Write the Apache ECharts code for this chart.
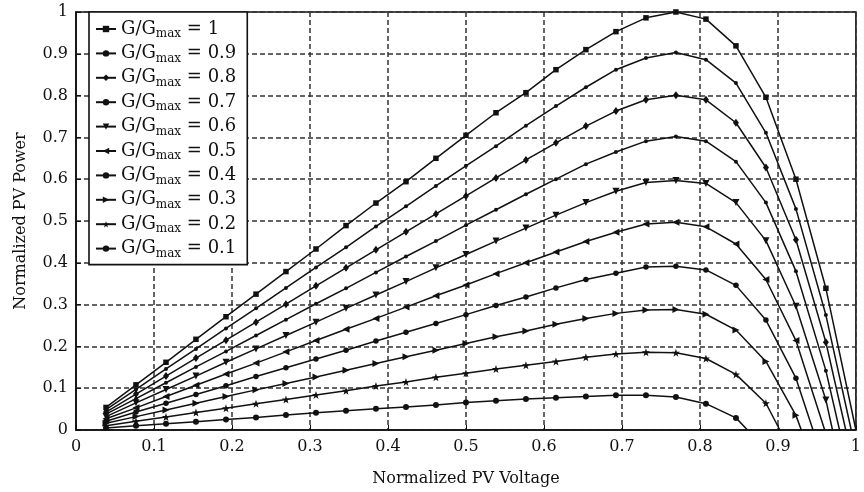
<!DOCTYPE html>
<html>
<head>
<meta charset="utf-8">
<script src="https://cdn.jsdelivr.net/npm/echarts@6/dist/echarts.min.js"></script>
<style>
  html, body { margin: 0; padding: 0; background: #fff; }
  #chart { width: 864px; height: 492px; }
</style>
</head>
<body>
<div id="chart"></div>
<script>
// Sampled normalized PV voltage points (shared by all irradiance curves)
const voltage = [0.0385, 0.0769, 0.1154, 0.1538, 0.1923, 0.2308, 0.2692, 0.3077, 0.3462,
  0.3846, 0.4231, 0.4615, 0.5, 0.5385, 0.5769, 0.6154, 0.6538, 0.6923, 0.7308,
  0.7692, 0.8077, 0.8462, 0.8846, 0.9231, 0.9615];

// Irradiance ratios G/Gmax, one curve each
const levels = ['1', '0.9', '0.8', '0.7', '0.6', '0.5', '0.4', '0.3', '0.2', '0.1'];

// Normalized PV power at each sampled voltage
const p10 = [0.054,0.108,0.162,0.217,0.271,0.325,0.379,0.433,0.489,0.543,0.594,0.650,0.705,0.759,0.807,0.862,0.910,0.953,0.986,1.000,0.983,0.919,0.796,0.600,0.339];
const p09 = [0.049,0.097,0.146,0.194,0.243,0.291,0.340,0.389,0.437,0.487,0.535,0.584,0.632,0.679,0.728,0.775,0.820,0.862,0.890,0.903,0.886,0.830,0.711,0.529,0.275];
const p08 = [0.043,0.086,0.129,0.172,0.215,0.258,0.301,0.345,0.388,0.431,0.474,0.517,0.560,0.603,0.646,0.687,0.727,0.763,0.790,0.801,0.790,0.735,0.628,0.455,0.210];
const p07 = [0.038,0.075,0.113,0.151,0.188,0.226,0.264,0.302,0.339,0.377,0.415,0.452,0.490,0.527,0.564,0.600,0.636,0.665,0.691,0.702,0.691,0.642,0.544,0.380,0.142];
const p06 = [0.032,0.065,0.097,0.129,0.162,0.194,0.226,0.258,0.291,0.323,0.355,0.388,0.420,0.452,0.483,0.514,0.544,0.571,0.592,0.597,0.590,0.544,0.453,0.296,0.072];
const p05 = [0.027,0.053,0.080,0.107,0.134,0.160,0.187,0.214,0.241,0.267,0.294,0.321,0.347,0.374,0.400,0.426,0.451,0.473,0.493,0.497,0.486,0.445,0.360,0.214];
const p04 = [0.021,0.043,0.064,0.085,0.106,0.128,0.149,0.170,0.191,0.213,0.234,0.255,0.276,0.298,0.318,0.340,0.360,0.375,0.390,0.392,0.383,0.346,0.263,0.124];
const p03 = [0.016,0.032,0.048,0.064,0.080,0.096,0.111,0.127,0.143,0.159,0.175,0.191,0.207,0.223,0.237,0.253,0.267,0.279,0.287,0.288,0.277,0.239,0.164,0.035];
const p02 = [0.010,0.021,0.031,0.042,0.052,0.063,0.073,0.084,0.094,0.105,0.115,0.126,0.136,0.146,0.155,0.164,0.174,0.182,0.186,0.185,0.171,0.133,0.064];
const p01 = [0.005,0.010,0.015,0.020,0.025,0.030,0.036,0.041,0.046,0.051,0.055,0.060,0.066,0.070,0.074,0.077,0.080,0.083,0.083,0.079,0.063,0.029];

// Open-circuit voltage where each curve returns to zero power
const openCircuit = [1.0, 0.994, 0.987, 0.979, 0.970, 0.960, 0.945, 0.930, 0.9025, 0.861];

const powers = [p10, p09, p08, p07, p06, p05, p04, p03, p02, p01];

// Marker shapes per curve
const STAR = 'path://M0,-10 L2.35,-3.24 L9.51,-3.09 L3.8,1.24 L5.88,8.09 L0,4 L-5.88,8.09 L-3.8,1.24 L-9.51,-3.09 L-2.35,-3.24 Z';
const TRI_DOWN = 'path://M-1,-1 L1,-1 L0,1 Z';
const TRI_LEFT = 'path://M1,-1 L1,1 L-1,0 Z';
const TRI_RIGHT = 'path://M-1,-1 L-1,1 L1,0 Z';
const markers = [
  { symbol: 'rect', size: 5.5 },
  { symbol: 'circle', size: 4 },
  { symbol: 'diamond', size: [6, 8] },
  { symbol: 'circle', size: 4 },
  { symbol: TRI_DOWN, size: 7 },
  { symbol: TRI_LEFT, size: 7 },
  { symbol: 'circle', size: 5.5 },
  { symbol: TRI_RIGHT, size: 7 },
  { symbol: STAR, size: 8 },
  { symbol: 'circle', size: 6 }
];

const FONT = 'DejaVu Serif';

const series = levels.map((lv, i) => {
  const pts = powers[i].map((p, j) => [voltage[j], p]);
  pts.push({ value: [openCircuit[i], 0], symbol: 'none' });
  return {
    name: 'G/Gmax = ' + lv,
    type: 'line',
    data: pts,
    symbol: markers[i].symbol,
    symbolSize: markers[i].size,
    showSymbol: true,
    lineStyle: { color: '#111', width: 1.5 },
    itemStyle: { color: '#111', borderColor: '#111', borderWidth: 0 },
    z: 3
  };
});

const chart = echarts.init(document.getElementById('chart'), null, { renderer: 'canvas' });
chart.setOption({
  animation: false,
  backgroundColor: '#fff',
  grid: {
    left: 76, right: 5, top: 12, bottom: 60,
    show: true, borderColor: '#111', borderWidth: 1.6, backgroundColor: 'transparent'
  },
  xAxis: {
    type: 'value', min: 0, max: 1, interval: 0.1,
    name: 'Normalized PV Voltage', nameLocation: 'middle', nameGap: 41,
    nameTextStyle: { fontFamily: FONT, fontSize: 16, color: '#111' },
    axisLine: { lineStyle: { color: '#111', width: 1.6 } },
    axisTick: { inside: true, length: 5, lineStyle: { color: '#111' } },
    axisLabel: { fontFamily: FONT, fontSize: 16, color: '#111', margin: 9 },
    splitLine: { show: true, lineStyle: { color: '#333', width: 1.5, type: [5, 3] } }
  },
  yAxis: {
    type: 'value', min: 0, max: 1, interval: 0.1,
    name: 'Normalized PV Power', nameLocation: 'middle', nameGap: 47,
    nameTextStyle: { fontFamily: FONT, fontSize: 16, color: '#111' },
    axisLine: { lineStyle: { color: '#111', width: 1.6 } },
    axisTick: { inside: true, length: 5, lineStyle: { color: '#111' } },
    axisLabel: { fontFamily: FONT, fontSize: 16, color: '#111', margin: 8 },
    splitLine: { show: true, lineStyle: { color: '#333', width: 1.5, type: [5, 3] } }
  },
  legend: {
    orient: 'vertical', left: 89, top: 12,
    padding: [7, 11, 5, 6], itemGap: 3.4,
    itemWidth: 20, itemHeight: 8,
    backgroundColor: '#fff', borderColor: '#111', borderWidth: 1.6,
    data: series.map(s => s.name),
    formatter: name => name.replace('Gmax', 'G{sub|max}'),
    textStyle: {
      fontFamily: FONT, fontSize: 18, color: '#111', lineHeight: 20,
      rich: { sub: { fontFamily: FONT, fontSize: 12, padding: [10, 0, 0, 0] } }
    },
    z: 10
  },
  series: series
});
</script>
</body>
</html>
